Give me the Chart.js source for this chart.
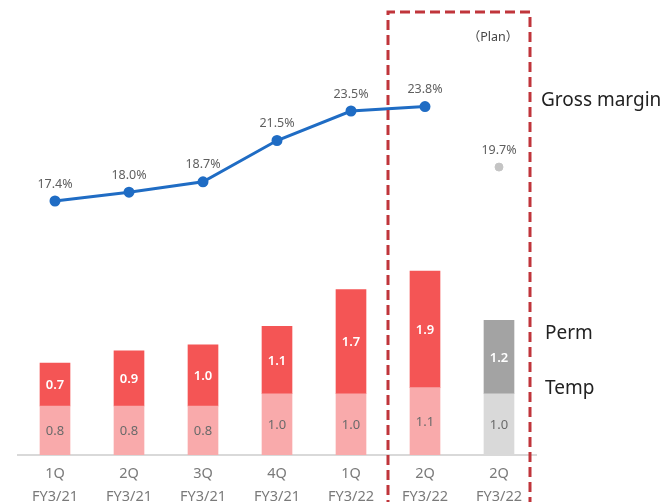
<!DOCTYPE html>
<html>
<head>
<meta charset="utf-8">
<script src="https://cdn.jsdelivr.net/npm/chart.js@4/dist/chart.umd.min.js"></script>
<style>
  html, body { margin: 0; padding: 0; background: #fff; overflow: hidden; }
  #wrap { width: 672px; height: 502px; position: relative; }
</style>
</head>
<body>
<div id="wrap"><canvas id="chart" width="672" height="502"></canvas></div>
<script>
// chart data
const quarters = ['1Q', '2Q', '3Q', '4Q', '1Q', '2Q', '2Q'];
const fiscalYears = ['FY3/21', 'FY3/21', 'FY3/21', 'FY3/21', 'FY3/22', 'FY3/22', 'FY3/22'];
const tempValues = [0.8, 0.8, 0.8, 1.0, 1.0, 1.1, 1.0];
const permValues = [0.7, 0.9, 1.0, 1.1, 1.7, 1.9, 1.2];
const grossMargin = [17.4, 18.0, 18.7, 21.5, 23.5, 23.8, null];
const planMargin = [null, null, null, null, null, null, 19.7];

const FONT = '"Noto Sans", "Noto Sans CJK JP", sans-serif';

// last column is the plan, drawn in grey
const permColors = permValues.map((v, i) => i === 6 ? '#a3a3a3' : '#f45555');
const tempColors = tempValues.map((v, i) => i === 6 ? '#d9d9d9' : '#f9aaab');

// Draws the value labels, the dashed plan box and the side captions
const annotationPlugin = {
    id: 'annotations',
    afterDatasetsDraw(chart) {
        const ctx = chart.ctx;
        const x = chart.scales.x;
        ctx.save();

        // bar value labels
        ctx.textAlign = 'center';
        ctx.textBaseline = 'middle';
        [0, 1].forEach(di => {
            const meta = chart.getDatasetMeta(di);
            const values = di === 0 ? tempValues : permValues;
            meta.data.forEach((bar, i) => {
                const mid = (bar.y + bar.base) / 2;
                if (di === 1) {
                    ctx.fillStyle = '#ffffff';
                    ctx.font = '600 13px ' + FONT;
                } else {
                    ctx.fillStyle = '#6a6a6a';
                    ctx.font = '13px ' + FONT;
                }
                ctx.fillText(values[i].toFixed(1), bar.x, mid + 1);
            });
        });

        // margin labels
        ctx.font = '12.5px ' + FONT;
        ctx.fillStyle = '#5f5f5f';
        [2, 3].forEach(di => {
            const values = di === 2 ? grossMargin : planMargin;
            chart.getDatasetMeta(di).data.forEach((pt, i) => {
                if (values[i] == null) return;
                ctx.fillText(values[i].toFixed(1) + '%', pt.x, pt.y - 17);
            });
        });

        // dashed plan box
        const left = x.getPixelForValue(4.5);
        const right = x.getPixelForValue(6) + 31;
        ctx.strokeStyle = '#c0353b';
        ctx.lineWidth = 3;
        ctx.setLineDash([10, 5]);
        ctx.beginPath();
        ctx.moveTo(left, 510);
        ctx.lineTo(left, 12);
        ctx.lineTo(right, 12);
        ctx.lineTo(right, 510);
        ctx.stroke();
        ctx.setLineDash([]);

        // captions
        ctx.fillStyle = '#444';
        ctx.font = '12.5px ' + FONT;
        ctx.fillText('（Plan）', x.getPixelForValue(6) - 6, 37);

        ctx.textAlign = 'left';
        ctx.fillStyle = '#222';
        ctx.font = '19px ' + FONT;
        ctx.fillText('Gross margin', 541, 101);
        ctx.fillText('Perm', 545, 334);
        ctx.fillText('Temp', 545, 389);

        ctx.restore();
    }
};

new Chart(document.getElementById('chart'), {
    type: 'bar',
    data: {
        labels: quarters.map((q, i) => [q, fiscalYears[i]]),
        datasets: [
            {
                label: 'Temp',
                data: tempValues,
                backgroundColor: tempColors,
                barThickness: 30,
                stack: 's',
                yAxisID: 'y',
                order: 2
            },
            {
                label: 'Perm',
                data: permValues,
                backgroundColor: permColors,
                barThickness: 30,
                stack: 's',
                yAxisID: 'y',
                order: 2
            },
            {
                type: 'line',
                label: 'Gross margin',
                data: grossMargin,
                borderColor: '#1f6cc4',
                backgroundColor: '#1f6cc4',
                borderWidth: 3,
                pointRadius: 4,
                pointHoverRadius: 4,
                tension: 0,
                yAxisID: 'y2',
                order: 1
            },
            {
                type: 'line',
                label: 'Plan',
                data: planMargin,
                showLine: false,
                borderColor: '#c4c4c4',
                backgroundColor: '#c4c4c4',
                pointRadius: 4,
                yAxisID: 'y2',
                order: 1
            }
        ]
    },
    options: {
        responsive: false,
        animation: false,
        layout: { padding: { left: 18, right: 136, top: 20, bottom: 0 } },
        plugins: {
            legend: { display: false },
            tooltip: { enabled: false }
        },
        scales: {
            x: {
                stacked: true,
                grid: { display: false, drawTicks: false },
                border: { display: true, color: '#d9d9d9', width: 2 },
                ticks: {
                    color: '#7a7a7a',
                    padding: 7,
                    font: { family: FONT, size: 14.5, lineHeight: 1.6 }
                },
                afterFit(scale) { scale.height = 47; }
            },
            y: {
                display: false,
                stacked: true,
                min: 0,
                max: 7.1
            },
            y2: {
                display: false,
                min: 0.18,
                max: 29.67
            }
        }
    },
    plugins: [annotationPlugin]
});
</script>
</body>
</html>
